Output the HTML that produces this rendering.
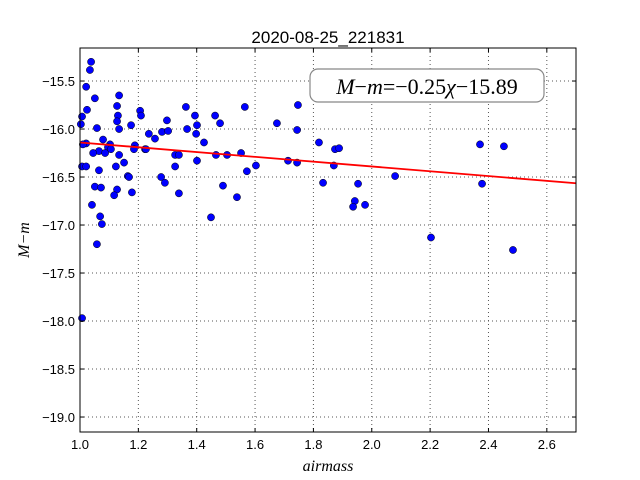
<!DOCTYPE html>
<html><head><meta charset="utf-8"><style>
body{margin:0;background:#fff;}
svg{display:block;font-family:"Liberation Sans",sans-serif;}
</style></head><body>
<svg id="chart" width="640" height="480">
<rect width="640" height="480" fill="#fff"/>
<g id="grid"></g>
<g id="pts"></g>
<g id="fit"></g>
<rect x="80" y="48" width="496" height="384" fill="none" stroke="#000" stroke-width="1"/>
<g id="ticks"></g>
<text x="328" y="43" text-anchor="middle" font-size="17">2020-08-25_221831</text>
<text x="328" y="471" text-anchor="middle" font-size="16" font-style="italic" font-family="Liberation Serif,serif">airmass</text>
<text transform="translate(29,240) rotate(-90)" text-anchor="middle" font-size="16" font-style="italic" font-family="Liberation Serif,serif">M−m</text>
<g>
<rect x="310" y="69" width="234" height="33" rx="8" fill="#fff" stroke="#888" stroke-width="1.2"/>
<text x="427" y="94" text-anchor="middle" font-size="22" font-family="Liberation Serif,serif"><tspan font-style="italic">M</tspan>−<tspan font-style="italic">m</tspan>=−0.25<tspan font-style="italic">χ</tspan>−15.89</text>
</g>
</svg>
<script>
const airmass=[1.038,1.034,1.021,1.051,1.134,1.127,1.024,1.007,1.003,1.130,1.127,1.134,1.058,1.175,1.206,1.209,1.021,1.010,1.079,1.103,1.096,1.106,1.065,1.045,1.086,1.134,1.151,1.123,1.007,1.021,1.065,1.188,1.185,1.223,1.226,1.236,1.257,1.281,1.302,1.298,1.164,1.168,1.051,1.072,1.127,1.117,1.178,1.278,1.291,1.339,1.326,1.339,1.326,1.401,1.363,1.394,1.401,1.367,1.398,1.425,1.466,1.504,1.552,1.572,1.603,1.463,1.480,1.565,1.490,1.538,1.449,1.041,1.069,1.075,1.058,1.007,1.675,1.747,1.744,1.713,1.744,1.819,1.874,1.888,1.870,1.833,1.953,1.942,1.936,1.977,2.080,2.371,2.378,2.453,2.484,2.203];
const dm=[-15.30,-15.385,-15.56,-15.68,-15.65,-15.76,-15.80,-15.87,-15.95,-15.86,-15.92,-16.00,-15.99,-15.96,-15.81,-15.86,-16.15,-16.16,-16.11,-16.16,-16.19,-16.21,-16.23,-16.25,-16.25,-16.27,-16.35,-16.39,-16.39,-16.39,-16.43,-16.17,-16.21,-16.21,-16.21,-16.05,-16.10,-16.03,-16.02,-15.91,-16.49,-16.50,-16.60,-16.61,-16.63,-16.69,-16.66,-16.50,-16.56,-16.67,-16.27,-16.27,-16.39,-16.33,-15.77,-15.86,-15.96,-16.00,-16.05,-16.14,-16.27,-16.27,-16.25,-16.44,-16.38,-15.86,-15.94,-15.77,-16.59,-16.71,-16.92,-16.79,-16.91,-16.99,-17.20,-17.97,-15.94,-15.75,-16.01,-16.33,-16.35,-16.14,-16.21,-16.20,-16.38,-16.56,-16.57,-16.75,-16.81,-16.79,-16.49,-16.16,-16.57,-16.18,-17.26,-17.13];
const xTicks=[1.0,1.2,1.4,1.6,1.8,2.0,2.2,2.4,2.6];
const yTicks=[-15.5,-16.0,-16.5,-17.0,-17.5,-18.0,-18.5,-19.0];
const slope=-0.25, intercept=-15.89;
const X0=1.0,X1=2.7,Y0=-19.156,Y1=-15.156;
const sx=v=>80+(v-X0)/(X1-X0)*496;
const sy=v=>432-(v-Y0)/(Y1-Y0)*384;
const NS="http://www.w3.org/2000/svg";
function mk(tag,attrs,parent){const e=document.createElementNS(NS,tag);for(const k in attrs)e.setAttribute(k,attrs[k]);parent.appendChild(e);return e;}
const grid=document.getElementById('grid'),ticks=document.getElementById('ticks'),pts=document.getElementById('pts'),fit=document.getElementById('fit');
xTicks.forEach(t=>{const x=sx(t);
 const g=mk('line',{x1:x,x2:x,y1:48,y2:432,stroke:'#555','stroke-dasharray':'1,3','stroke-width':1},grid);
 
 
 const tk=mk('line',{x1:x,x2:x,y1:432,y2:428,stroke:'#000'},ticks);
 
 
 const tk2=mk('line',{x1:x,x2:x,y1:48,y2:52,stroke:'#000'},ticks);
 
 
 const l=mk('text',{x:x,y:449,'text-anchor':'middle','font-size':13},ticks);l.textContent=t.toFixed(1);
 
 
});
yTicks.forEach(t=>{const y=sy(t);
 const g=mk('line',{x1:80,x2:576,y1:y,y2:y,stroke:'#555','stroke-dasharray':'1,3','stroke-width':1},grid);
 
 
 const tk=mk('line',{x1:80,x2:84,y1:y,y2:y,stroke:'#000'},ticks);
 
 
 const tk2=mk('line',{x1:572,x2:576,y1:y,y2:y,stroke:'#000'},ticks);
 
 
 const l=mk('text',{x:75,y:y+5,'text-anchor':'end','font-size':13},ticks);l.textContent='−'+Math.abs(t).toFixed(1);
 
 
});
airmass.forEach((a,i)=>{
 const c=mk('circle',{cx:sx(a),cy:sy(dm[i]),r:3.6,fill:'#0000ff',stroke:'#000','stroke-width':0.5},pts);
 
 
});
const ln=mk('line',{x1:sx(1.0),y1:sy(slope*1.0+intercept),x2:sx(2.7),y2:sy(slope*2.7+intercept),stroke:'#ff0000','stroke-width':1.8},fit);


</script>
</body></html>
